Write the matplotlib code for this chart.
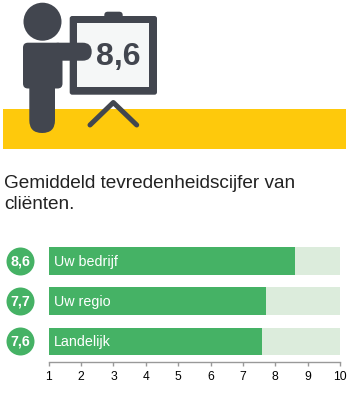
#!/usr/bin/env python

import matplotlib
matplotlib.use('Agg')
import matplotlib.pyplot as plt
from matplotlib.patches import Circle, FancyBboxPatch, Rectangle
from matplotlib.transforms import blended_transform_factory

plt.rcParams['font.family'] = ['Liberation Sans', 'DejaVu Sans']

W, H = 351, 397
ICON = '#42464f'
GREEN = '#45b265'
LIGHT = '#dcecdc'

labels = ['Uw bedrijf', 'Uw regio', 'Landelijk']
scores = [8.6, 7.7, 7.6]
score_labels = ['8,6', '7,7', '7,6']
ticks = [1, 2, 3, 4, 5, 6, 7, 8, 9, 10]
headline = '8,6'
title = 'Gemiddeld tevredenheidscijfer van\ncliënten.'


def rbox(ax, x0, y0, x1, y1, r, color, z):
    # rounded box in pixel coords
    ax.add_patch(FancyBboxPatch((x0 + r, y0 + r), x1 - x0 - 2 * r, y1 - y0 - 2 * r,
                                boxstyle='round,pad={0},rounding_size={0}'.format(r),
                                fc=color, ec='none', zorder=z))


fig = plt.figure(figsize=(W / 100, H / 100), dpi=100, facecolor='white')

# pixel canvas for the banner and the icon
bg = fig.add_axes([0, 0, 1, 1])
bg.set_xlim(0, W)
bg.set_ylim(H, 0)
bg.axis('off')

bg.add_patch(Rectangle((3, 109), 343, 40, fc='#fec90c', ec='none', zorder=1))

# person
bg.add_patch(Circle((42.5, 21.7), 19, fc=ICON, ec='none', zorder=2))
rbox(bg, 23, 42.7, 62.5, 88.5, 5, ICON, 2)
rbox(bg, 29.3, 70, 55, 133, 12.8, ICON, 2)

# board
rbox(bg, 104.3, 11.7, 122.7, 24, 3.5, ICON, 2)
rbox(bg, 69.7, 16, 157, 94.7, 2.5, ICON, 2)
bg.add_patch(Rectangle((77.3, 23.3), 72, 64, fc='#f5f7f7', ec='none', zorder=3))
rbox(bg, 50, 42.7, 91.7, 60.7, 9, ICON, 4)
bg.plot([90, 113.3, 136.7], [125, 102.5, 125], color=ICON, lw=3.6,
        solid_capstyle='round', solid_joinstyle='round', zorder=2)
bg.text(118, 56.5, headline, ha='center', va='center', fontsize=23, fontweight='bold',
        color=ICON, zorder=5)

bg.text(4, 194, title, ha='left', va='center', fontsize=13.7, color='#222222',
        linespacing=1.32)

# chart
ax = fig.add_axes([48.7 / W, 1 - 361.5 / H, (340 - 48.7) / W, 120.5 / H])
ax.patch.set_alpha(0)
ypos = list(range(len(labels)))
ax.barh(ypos, [10 - 1] * len(ypos), left=1, height=0.69, color=LIGHT, lw=0)
ax.barh(ypos, [s - 1 for s in scores], left=1, height=0.69, color=GREEN, lw=0)
ax.set_xlim(1, 10)
ax.set_ylim(2.5, -0.5)
ax.set_xticks(ticks)
ax.set_yticks([])
for side in ['top', 'left', 'right']:
    ax.spines[side].set_visible(False)
ax.spines['bottom'].set_color('#999999')
ax.spines['bottom'].set_linewidth(1)
ax.tick_params(axis='x', length=3, width=1, color='#999999', labelsize=8.7, pad=4,
               labelcolor='black')

trans = blended_transform_factory(ax.transAxes, ax.transData)
badge_x = (20.3 - 48.7) / (340 - 48.7)
for y, lab, sl in zip(ypos, labels, score_labels):
    ax.annotate(lab, (1, y), xytext=(5.5, -1), textcoords='offset pixels', ha='left',
                va='center', fontsize=10.3, color='white')
    ax.scatter([badge_x], [y], s=406, color=GREEN, lw=0, transform=trans, clip_on=False)
    ax.text(badge_x, y, sl, transform=trans, ha='center', va='center', fontsize=10.3,
            fontweight='bold', color='white', clip_on=False)

fig.savefig('out.png', dpi=100)
